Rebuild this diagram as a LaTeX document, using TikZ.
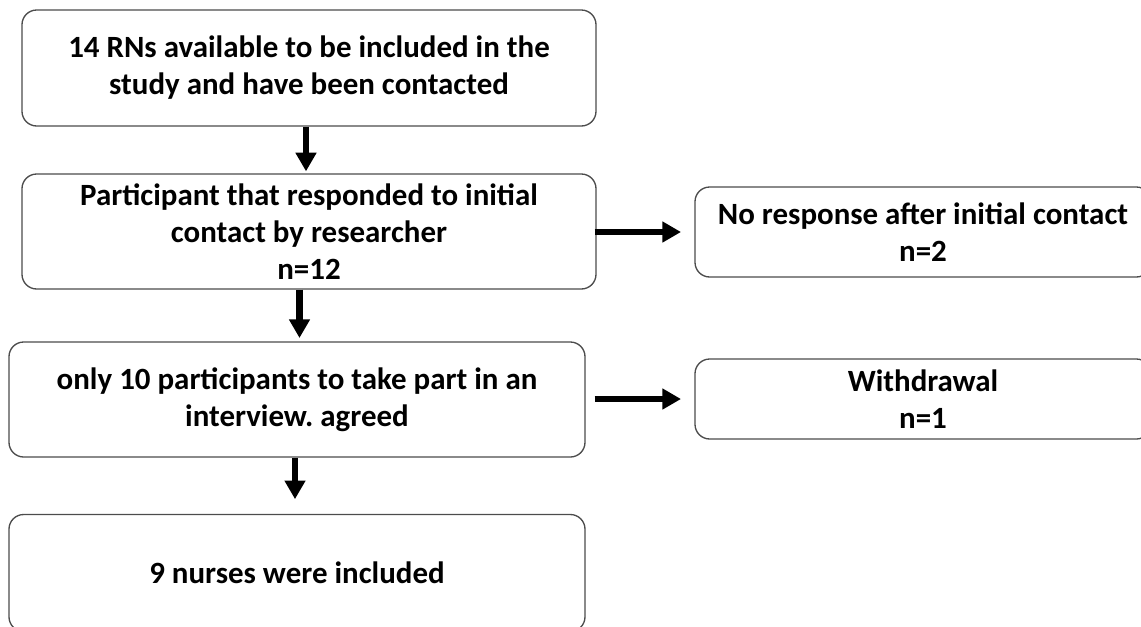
\documentclass[tikz,border=0pt]{standalone}
\usepackage{fontspec}
\setmainfont{Carlito}
\usetikzlibrary{arrows.meta,calc}
\begin{document}
\frenchspacing
\begin{tikzpicture}[x=0.75pt,y=-0.75pt,
  box/.style={draw=black!70, line width=1pt, rounded corners=11pt, align=center,
    font=\bfseries\fontsize{23.2}{27.8}\selectfont, inner sep=0pt},
  flow/.style={line width=4.9pt, -{Triangle[width=15pt,length=14pt]}}]
\useasboundingbox (0,0) rectangle (1141,626);
\clip (0,0) rectangle (1141,626);
\node[box, minimum width=574*0.75pt, minimum height=116*0.75pt] (b1) at (309,68)
  {14 RNs available to be included in the\\study and have been contacted};
\node[box, minimum width=574*0.75pt, minimum height=115*0.75pt] (b2) at (309,231.5)
  {Participant that responded to initial\\contact by researcher\\n=12};
\node[box, minimum width=576*0.75pt, minimum height=115*0.75pt] (b3) at (297,399.5)
  {only 10 participants to take part in an\\interview. agreed};
\node[box, minimum width=576*0.75pt, minimum height=117*0.75pt] (b4) at (297,573)
  {9 nurses were included};
\node[box, minimum width=456*0.75pt, minimum height=90*0.75pt] (r1) at (923,232)
  {No response after initial contact\\n=2};
\node[box, minimum width=456*0.75pt, minimum height=80*0.75pt] (r2) at (923,399)
  {Withdrawal\\n=1};
\coordinate (a1s) at ($(b1.south)+(-3,0)$);
\coordinate (a2s) at ($(b2.south)+(-9.5,0)$);
\coordinate (a3s) at ($(b3.south)+(-2,0)$);
\coordinate (a4s) at ($(b2.east |- r1.west)+(-2,0)$);
\coordinate (a5s) at ($(b3.east |- r2.west)+(9,0)$);
\draw[flow, shorten >=1.5pt] (a1s) -- (a1s |- b2.north);
\draw[flow, shorten >=2.5pt] (a2s) -- (a2s |- b3.north);
\draw[flow, shorten >=11pt] (a3s) -- (a3s |- b4.north);
\draw[flow, shorten >=10pt] (a4s) -- (r1.west);
\draw[flow, shorten >=10pt] (a5s) -- (r2.west);
\end{tikzpicture}
\end{document}
